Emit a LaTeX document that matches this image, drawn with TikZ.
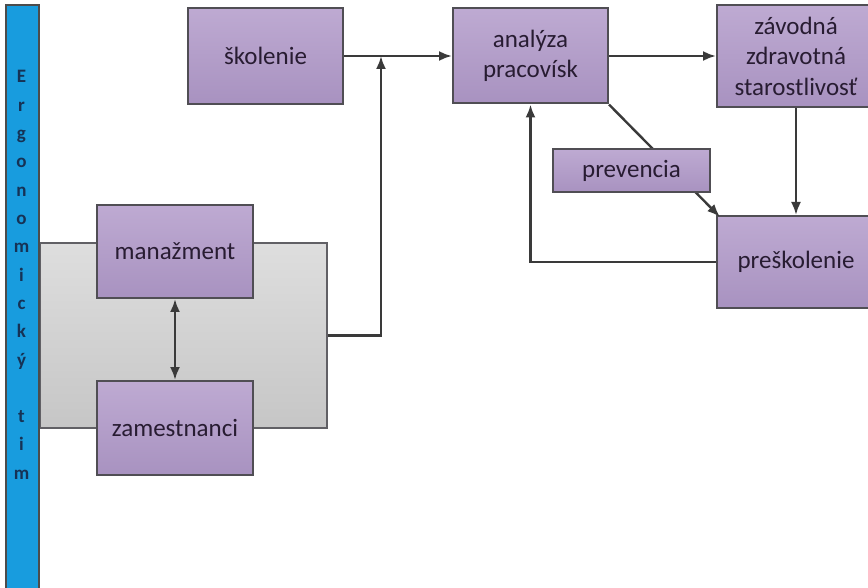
\documentclass[tikz,border=0pt]{standalone}
\usepackage{fontspec}
\setmainfont{Carlito}
\usetikzlibrary{arrows.meta}
\definecolor{boxtop}{RGB}{190,170,210}
\definecolor{boxbot}{RGB}{168,146,192}
\definecolor{boxline}{RGB}{80,78,84}
\definecolor{txt}{RGB}{40,28,50}
\definecolor{conn}{RGB}{58,58,58}
\definecolor{barblue}{RGB}{24,156,222}
\definecolor{bartext}{RGB}{22,50,85}
\definecolor{grouptop}{RGB}{222,222,222}
\definecolor{groupbot}{RGB}{198,198,198}
\tikzset{
  pbox/.style={draw=boxline, line width=2pt, top color=boxtop, bottom color=boxbot,
    text=txt, align=center, inner sep=0pt, font=\fontsize{25}{30.5}\selectfont},
  conline/.style={draw=conn, line width=2.4pt},
  tip/.style={-{Latex[length=13pt,width=10pt]}},
  letter/.style={anchor=base, text=bartext, inner sep=0pt, font=\fontsize{19}{19}\selectfont\bfseries}
}
\begin{document}
\begin{tikzpicture}[x=1pt,y=-1pt]
\useasboundingbox (0,0) rectangle (868,588);
\clip (0,0) rectangle (868,588);
\fill[white] (0,0) rectangle (868,588);

% grey frame around management and employees
\node[draw=boxline!90, line width=2pt, top color=grouptop, bottom color=groupbot,
  minimum width=287pt, minimum height=185pt, inner sep=0pt] (grp) at (183.5,335.5) {};

% boxes
\node[pbox, minimum width=156pt, minimum height=93pt] (man) at (175,251.5) {manažment};
\node[pbox, minimum width=156pt, minimum height=94pt] (zam) at (175,428) {zamestnanci};
\node[pbox, minimum width=155pt, minimum height=96pt] (skol) at (265.5,56) {školenie};
\node[pbox, minimum width=155pt, minimum height=95pt] (anal) at (530.5,56) {analýza\\pracovísk};
\node[pbox, minimum width=158pt, minimum height=102pt] (zav) at (796,56) {závodná\\zdravotná\\starostlivosť};
\node[pbox, minimum width=158pt, minimum height=92pt] (presk) at (796,262) {preškolenie};

% connectors
\coordinate (join) at (381,56);
\draw[conline, tip] (skol.east) -- (anal.west);
\draw[conline, tip] (grp.east) -| (join);
\draw[conline, tip] (anal.east) -- (zav.west);
\draw[conline, tip] (zav.south) -- (presk.north);
\draw[conline, tip] (anal.south east) -- ([xshift=4pt,yshift=-2pt]presk.north west);
\draw[conline, tip] (presk.west) -| (anal.south);
\draw[conline, {Latex[length=13pt,width=10pt]}-{Latex[length=13pt,width=10pt]}] (man.south) -- (zam.north);

% prevention box sits over the diagonal link
\node[pbox, minimum width=157pt, minimum height=43pt] (prev) at (631.5,170.5) {prevencia};

% vertical team bar
\node[draw=black!70, line width=1.2pt, fill=barblue, minimum width=33pt, minimum height=590pt,
  inner sep=0pt] (bar) at (22.5,300) {};
\foreach \ch [count=\i] in {E,r,g,o,n,o,m,i,c,k,ý,{},t,i,m}
  \node[letter] (l\i) at (21.5,{83+28.3*(\i-1)}) {\ch};
\end{tikzpicture}
\end{document}
